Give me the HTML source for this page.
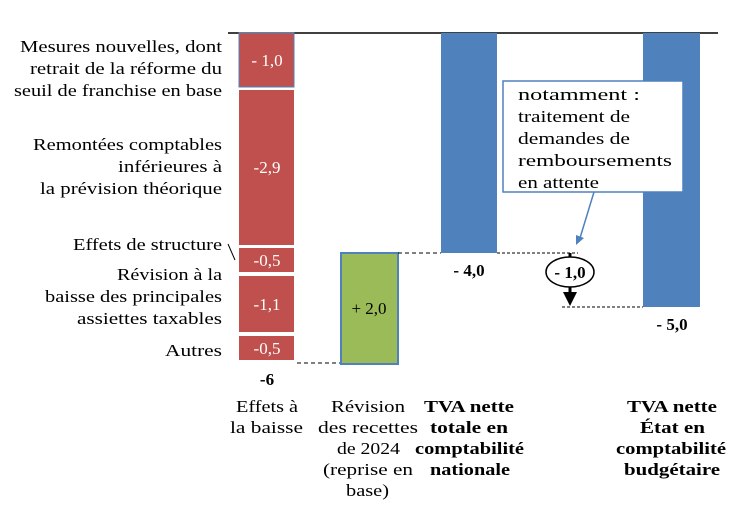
<!DOCTYPE html>
<html><head><meta charset="utf-8"><style>
body{margin:0;background:#fff}
svg text{font-family:"Liberation Serif",serif;font-size:17px;fill:#000}
.w{fill:#fff}
.b{font-weight:bold}
</style></head><body>
<svg width="741" height="519" viewBox="0 0 741 519" xmlns="http://www.w3.org/2000/svg">
<line x1="228" y1="33" x2="718" y2="33" stroke="#000" stroke-width="1.5"/>
<rect x="239" y="33" width="55" height="54" fill="#c0504d" stroke="#4f81bd" stroke-width="1"/>
<rect x="239" y="90" width="55" height="155" fill="#c0504d"/>
<rect x="239" y="248" width="55" height="24" fill="#c0504d"/>
<rect x="239" y="276" width="55" height="56" fill="#c0504d"/>
<rect x="239" y="336" width="55" height="24" fill="#c0504d"/>
<g text-anchor="middle">
<text x="267" y="66" class="w">- 1,0</text>
<text x="267" y="173" class="w">-2,9</text>
<text x="267" y="266" class="w">-0,5</text>
<text x="267" y="310" class="w">-1,1</text>
<text x="267" y="354" class="w">-0,5</text>
<text x="267" y="385" class="b">-6</text>
</g>
<g lengthAdjust="spacingAndGlyphs">
<text x="20" y="52" textLength="202" lengthAdjust="spacingAndGlyphs">Mesures nouvelles, dont</text>
<text x="30" y="74" textLength="192" lengthAdjust="spacingAndGlyphs">retrait de la réforme du</text>
<text x="14" y="96" textLength="208" lengthAdjust="spacingAndGlyphs">seuil de franchise en base</text>
<text x="33" y="150" textLength="189" lengthAdjust="spacingAndGlyphs">Remontées comptables</text>
<text x="118" y="172" textLength="104" lengthAdjust="spacingAndGlyphs">inférieures à</text>
<text x="40" y="194" textLength="182" lengthAdjust="spacingAndGlyphs">la prévision théorique</text>
<text x="73" y="250" textLength="149" lengthAdjust="spacingAndGlyphs">Effets de structure</text>
<text x="117" y="280" textLength="105" lengthAdjust="spacingAndGlyphs">Révision à la</text>
<text x="45" y="302" textLength="177" lengthAdjust="spacingAndGlyphs">baisse des principales</text>
<text x="77" y="324" textLength="145" lengthAdjust="spacingAndGlyphs">assiettes taxables</text>
<text x="165" y="356" textLength="57" lengthAdjust="spacingAndGlyphs">Autres</text>
</g>
<line x1="228" y1="244" x2="235" y2="260" stroke="#000"/>
<line x1="297" y1="363" x2="341" y2="363" stroke="#000" stroke-dasharray="4,3"/>
<rect x="341" y="253" width="57" height="111" fill="#9bbb59" stroke="#4f81bd" stroke-width="2"/>
<text x="369" y="314" text-anchor="middle">+ 2,0</text>
<line x1="398" y1="253" x2="441" y2="253" stroke="#000" stroke-dasharray="4,3"/>
<rect x="441" y="33" width="56" height="220" fill="#4f81bd"/>
<text x="469" y="276" text-anchor="middle" class="b">- 4,0</text>
<line x1="497" y1="253" x2="578" y2="253" stroke="#000" stroke-dasharray="3,2"/>
<rect x="643" y="33" width="57" height="274" fill="#4f81bd"/>
<text x="672" y="330" text-anchor="middle" class="b">- 5,0</text>
<line x1="562" y1="307" x2="643" y2="307" stroke="#000" stroke-dasharray="3,2"/>
<rect x="503" y="81" width="180" height="111" fill="#fff" stroke="#4f81bd" stroke-width="1.5"/>
<text x="518" y="100" textLength="122" lengthAdjust="spacingAndGlyphs">notamment  :</text>
<text x="518" y="122" textLength="112" lengthAdjust="spacingAndGlyphs">traitement de</text>
<text x="518" y="144" textLength="112" lengthAdjust="spacingAndGlyphs">demandes de</text>
<text x="518" y="166" textLength="154" lengthAdjust="spacingAndGlyphs">remboursements</text>
<text x="518" y="188" textLength="81" lengthAdjust="spacingAndGlyphs">en attente</text>
<line x1="594" y1="192" x2="580" y2="238" stroke="#4f81bd" stroke-width="1.5"/>
<polygon points="576,245 576,235 584,238" fill="#4f81bd"/>
<line x1="570" y1="253" x2="570" y2="300" stroke="#000" stroke-width="3"/>
<ellipse cx="570" cy="272" rx="24" ry="15" fill="#fff" stroke="#000" stroke-width="1.5"/>
<text x="570" y="278" text-anchor="middle" class="b">- 1,0</text>
<polygon points="563,292 577,292 570,306" fill="#000"/>
<g>
<text x="236" y="412" textLength="62" lengthAdjust="spacingAndGlyphs">Effets à</text>
<text x="230" y="433" textLength="73" lengthAdjust="spacingAndGlyphs">la baisse</text>
<text x="331" y="412" textLength="74" lengthAdjust="spacingAndGlyphs">Révision</text>
<text x="318" y="433" textLength="100" lengthAdjust="spacingAndGlyphs">des recettes</text>
<text x="337" y="454" textLength="63" lengthAdjust="spacingAndGlyphs">de 2024</text>
<text x="323" y="475" textLength="90" lengthAdjust="spacingAndGlyphs">(reprise en</text>
<text x="346" y="496" textLength="43" lengthAdjust="spacingAndGlyphs">base)</text>
<text x="424" y="412" class="b" textLength="90" lengthAdjust="spacingAndGlyphs">TVA nette</text>
<text x="430" y="433" class="b" textLength="78" lengthAdjust="spacingAndGlyphs">totale en</text>
<text x="415" y="454" class="b" textLength="109" lengthAdjust="spacingAndGlyphs">comptabilité</text>
<text x="430" y="475" class="b" textLength="80" lengthAdjust="spacingAndGlyphs">nationale</text>
<text x="627" y="412" class="b" textLength="90" lengthAdjust="spacingAndGlyphs">TVA nette</text>
<text x="640" y="433" class="b" textLength="65" lengthAdjust="spacingAndGlyphs">État en</text>
<text x="616" y="454" class="b" textLength="110" lengthAdjust="spacingAndGlyphs">comptabilité</text>
<text x="624" y="475" class="b" textLength="96" lengthAdjust="spacingAndGlyphs">budgétaire</text>
</g>
</svg>
</body></html>
